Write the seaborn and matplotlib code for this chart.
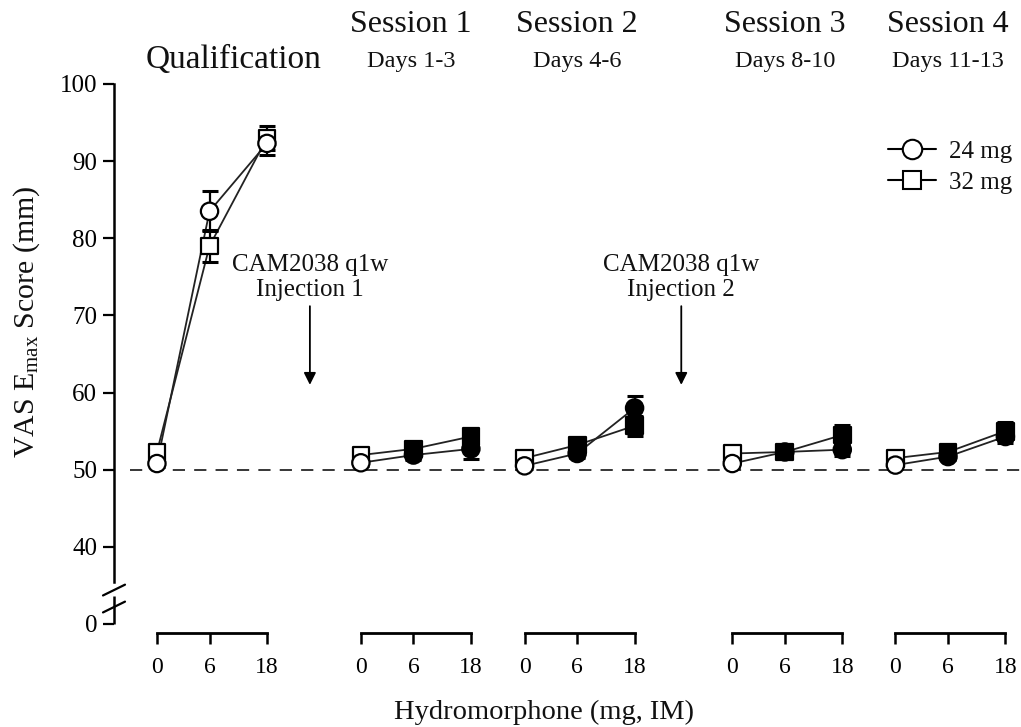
import numpy as np
import pandas as pd
import matplotlib
matplotlib.use("Agg")
import matplotlib.pyplot as plt
from matplotlib.lines import Line2D
from matplotlib.transforms import blended_transform_factory
import seaborn as sns

# ---------------- data ----------------
sessions = ["Qualification", "Session 1", "Session 2", "Session 3", "Session 4"]
subtitles = ["", "Days 1-3", "Days 4-6", "Days 8-10", "Days 11-13"]
doses = ["0", "6", "18"]
series = ["24 mg", "32 mg"]

mg24 = [[50.8, 83.5, 92.3], [50.9, 51.9, 52.7], [50.5, 52.1, 58.0],
        [50.8, 52.3, 52.6], [50.6, 51.7, 54.3]]
mg32 = [[52.3, 79.0, 93.0], [51.9, 52.7, 54.3], [51.5, 53.2, 55.7],
        [52.1, 52.3, 54.5], [51.5, 52.3, 55.0]]
sem24 = [[0.5, 2.6, 1.5], [0.4, 0.6, 1.3], [0.4, 0.6, 1.6],
         [0.4, 0.5, 0.8], [0.4, 0.5, 0.9]]
sem32 = [[0.8, 2.1, 1.6], [0.5, 0.7, 1.0], [0.5, 0.7, 1.3],
         [0.5, 0.6, 1.3], [0.5, 0.6, 1.2]]
# filled symbol = significant (as in the original figure)
filled = [[0, 0, 0], [0, 1, 1], [0, 1, 1], [0, 1, 1], [0, 1, 1]]
injections = ["CAM2038 q1w\nInjection 1", "CAM2038 q1w\nInjection 2"]

# ---------------- layout ----------------
group_start = [0.0, 3.80, 6.85, 10.72, 13.76]
dose_offset = [0.0, 0.98, 2.05]
injection_x = [2.85, 9.77]
XLIM = (-0.80, 16.1)
YLIM = (30, 100)   # 30 on the broken axis represents 0

rows = []
for gi, g in enumerate(sessions):
    for di, d in enumerate(doses):
        for s, vals, sems in (("24 mg", mg24, sem24), ("32 mg", mg32, sem32)):
            rows.append(dict(group=g, dose=d, series=s,
                             x=group_start[gi] + dose_offset[di],
                             value=vals[gi][di], err=sems[gi][di],
                             fill="black" if filled[gi][di] else "white"))
df = pd.DataFrame(rows)

sns.set_theme(style="ticks")
plt.rcParams["font.family"] = ["Liberation Serif", "DejaVu Serif"]
plt.rcParams["mathtext.fontset"] = "custom"
plt.rcParams["mathtext.rm"] = "Liberation Serif"
plt.rcParams["mathtext.it"] = "Liberation Serif:italic"
plt.rcParams["axes.edgecolor"] = "black"
plt.rcParams["text.color"] = "#111111"

W, H = 1021, 727
fig = plt.figure(figsize=(W / 100, H / 100), dpi=100)
L, R, T, B = 114, 1021, 84, 624
ax = fig.add_axes([L / W, 1 - B / H, (R - L) / W, (B - T) / H])
ax.set_xlim(*XLIM)
ax.set_ylim(*YLIM)
ax.patch.set_alpha(0)

# reference dashed line at 50
ax.axhline(50, xmin=0.018, xmax=1,
           color="black", lw=1.1, ls=(0, (8, 6)), zorder=1)

# connecting lines
for s in series:
    sub = df[df.series == s]
    sns.lineplot(data=sub, x="x", y="value", units="group", estimator=None,
                 color="#222222", lw=1.3, ax=ax, legend=False, zorder=2,
                 sort=False)

# error bars
for s in ["32 mg", "24 mg"]:
    sub = df[df.series == s]
    ax.errorbar(sub["x"], sub["value"], yerr=sub["err"], fmt="none",
                ecolor="black", elinewidth=1.6, capsize=5.5, capthick=2.2,
                zorder=3)

# markers: squares first, circles on top
for s, m in (("32 mg", "s"), ("24 mg", "o")):
    sub = df[df.series == s]
    sns.scatterplot(data=sub, x="x", y="value", hue="fill",
                    palette={"black": "black", "white": "white"},
                    marker=m, s=155 if m == "o" else 145, edgecolor="black",
                    linewidth=1.6, ax=ax, legend=False, zorder=4)

# y axis with break
ax.set_yticks([30, 40, 50, 60, 70, 80, 90, 100])
ax.set_yticklabels(["0", "40", "50", "60", "70", "80", "90", "100"])
ax.tick_params(axis="y", direction="out", length=8, width=1.6, labelsize=18,
               pad=4, colors="black")
ax.spines["left"].set_bounds(35.5, 100)
ax.spines["left"].set_linewidth(1.8)
for sp in ("top", "right", "bottom"):
    ax.spines[sp].set_visible(False)
ax.set_xticks([])
ax.set_xlabel("")
ax.set_ylabel(r"VAS E$_{\mathrm{max}}$ Score (mm)", fontsize=21.5, color="#111111")
ax.yaxis.set_label_coords(-0.079, 0.56)
trans = blended_transform_factory(ax.transAxes, ax.transData)
ax.plot([0, 0], [30, 33.6], transform=trans, color="black", lw=1.8,
        clip_on=False, solid_capstyle="butt")
dx = 11 / (R - L)
for yb in (34.4, 32.2):
    ax.plot([-dx, dx], [yb - 0.7, yb + 0.7], transform=trans, color="black",
            lw=1.6, clip_on=False)

# per-group x "bracket" axes
ybr = 633
for gi in range(len(sessions)):
    bx = fig.add_axes([L / W, 1 - ybr / H, (R - L) / W, 0.0001])
    bx.set_xlim(*XLIM)
    bx.patch.set_alpha(0)
    for sp in ("top", "right", "left"):
        bx.spines[sp].set_visible(False)
    xs = [group_start[gi] + o for o in dose_offset]
    bx.spines["bottom"].set_bounds(xs[0], xs[-1])
    bx.spines["bottom"].set_linewidth(2.0)
    bx.set_xticks(xs)
    bx.set_xticklabels(doses)
    bx.set_yticks([])
    bx.tick_params(axis="x", direction="out", length=8, width=1.8,
                   labelsize=17, pad=9, colors="black")

fig.text((544) / W, 1 - 712 / H, "Hydromorphone (mg, IM)", ha="center",
         va="center", fontsize=20.5, color="#111111")

# headers
tx = blended_transform_factory(ax.transData, fig.transFigure)
header_dx = [1.43, 0.93, 0.98, 0.98, 0.98]
for gi, g in enumerate(sessions):
    xc = group_start[gi] + header_dx[gi]
    if subtitles[gi]:
        ax.text(xc, 1 - 25 / H, g, transform=tx, ha="center", va="center",
                fontsize=23)
        ax.text(xc, 1 - 61 / H, subtitles[gi], transform=tx, ha="center",
                va="center", fontsize=17.5)
    else:
        ax.text(xc, 1 - 60 / H, g, transform=tx, ha="center", va="center",
                fontsize=24)

# injection annotations
for xi, txt in zip(injection_x, injections):
    ax.annotate("", xy=(xi, 61.0), xytext=(xi, 71.2),
                arrowprops=dict(arrowstyle="-|>", color="black", lw=1.3,
                                mutation_scale=18, shrinkA=0, shrinkB=0))
    ax.text(xi, 74.9, txt, ha="center", va="center", fontsize=18,
            linespacing=1.15)

# legend
handles = [Line2D([], [], color="black", lw=1.5, marker="o", markersize=14,
                  markerfacecolor="white", markeredgecolor="black", mew=1.5),
           Line2D([], [], color="black", lw=1.5, marker="s", markersize=13,
                  markerfacecolor="white", markeredgecolor="black", mew=1.5)]
leg = ax.legend(handles, series, loc="center left", frameon=False,
                bbox_to_anchor=(888 / W, 1 - 167 / H),
                bbox_transform=fig.transFigure, fontsize=18,
                handlelength=1.9, handletextpad=0.55, labelspacing=0.35,
                borderpad=0, borderaxespad=0)

fig.savefig("out.png", dpi=100)
